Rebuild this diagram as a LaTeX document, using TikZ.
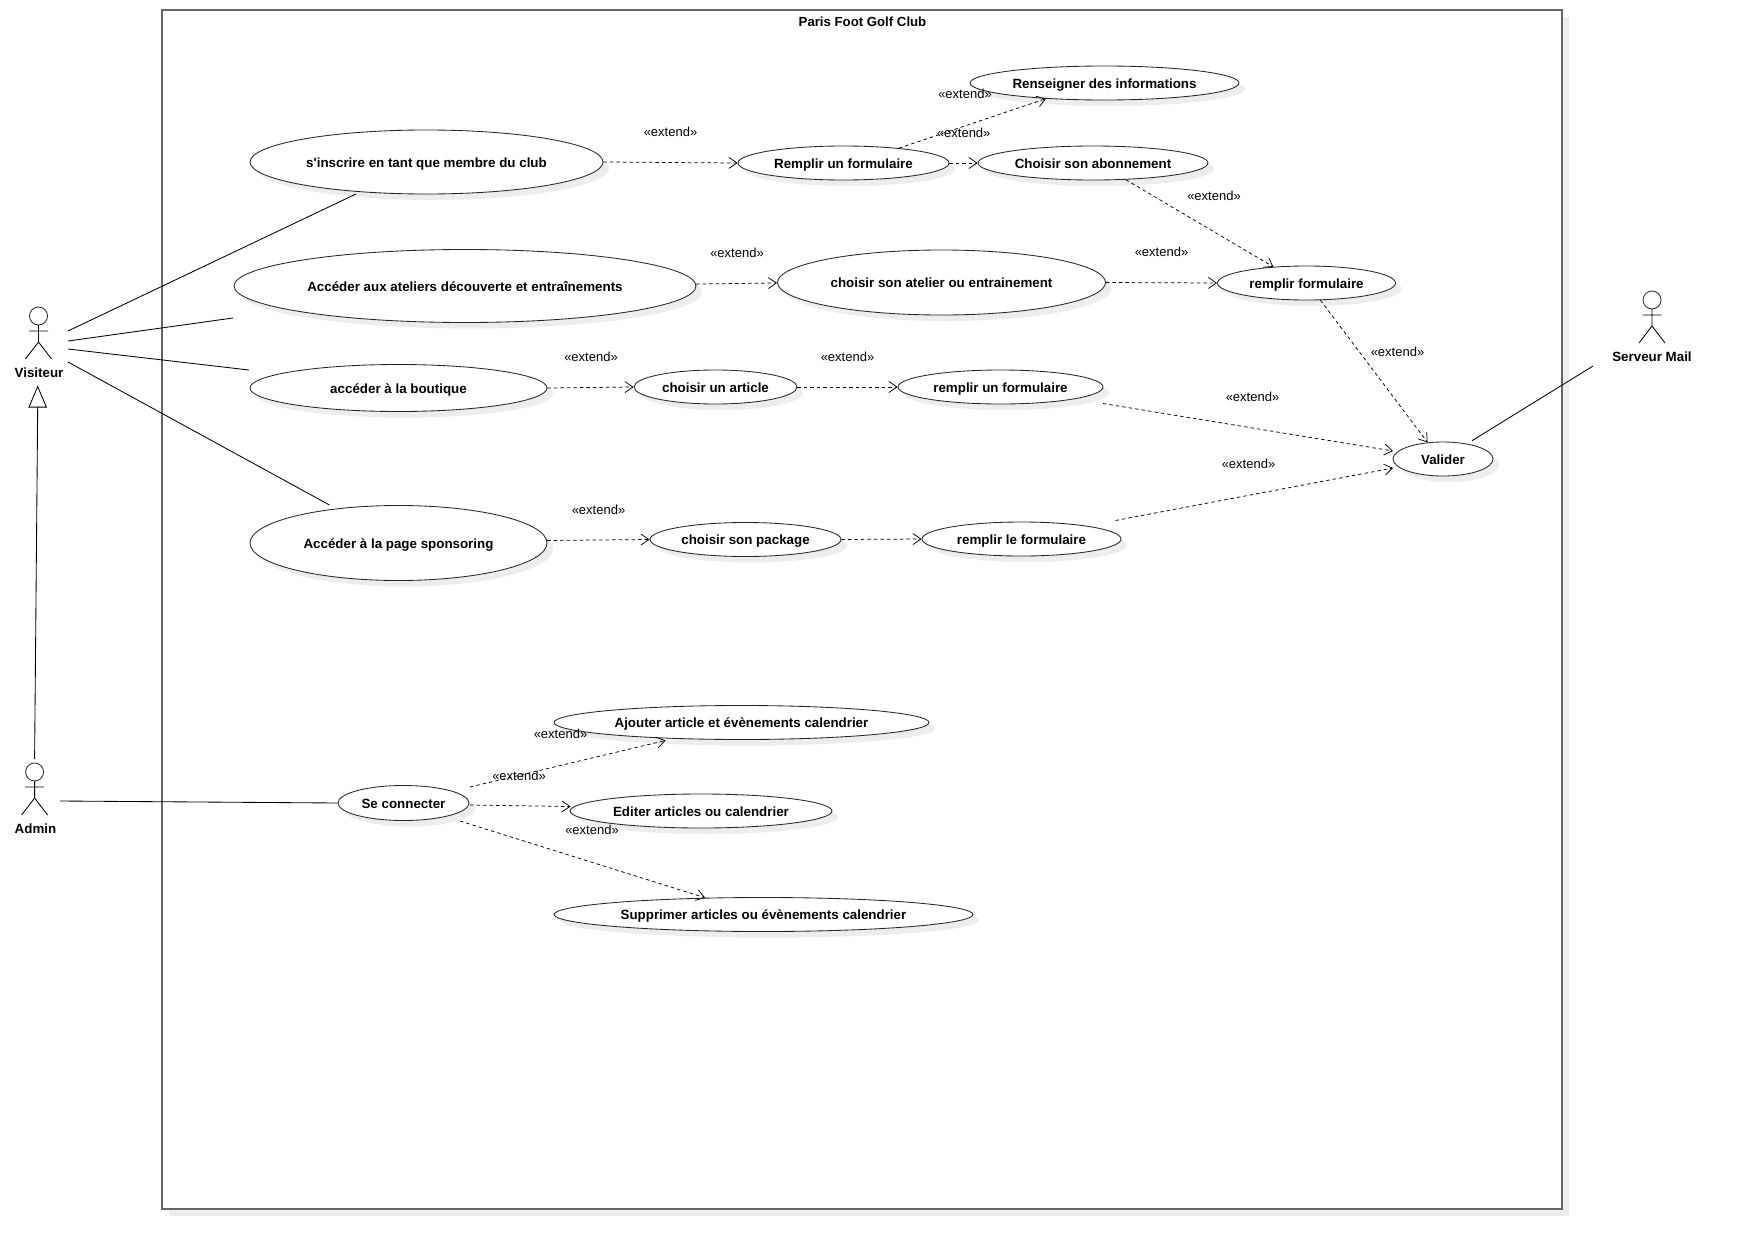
\documentclass[tikz,border=0pt]{standalone}
\usepackage{fontspec}
\newfontfamily\plainsans{Liberation Sans}
\usetikzlibrary{shapes.geometric,shadows,arrows.meta}
\definecolor{shadowgray}{gray}{0.93}
\tikzset{
  usecase/.style={ellipse,draw=black!85,line width=0.85pt,fill=white,inner sep=0pt,
    general shadow={shadow xshift=6pt,shadow yshift=-6pt,fill=shadowgray},
    font=\plainsans\fontsize{13.35}{16}\selectfont\bfseries},
  actorname/.style={inner sep=0pt,font=\plainsans\fontsize{13.35}{16}\selectfont\bfseries},
  extlabel/.style={inner sep=0pt,font=\plainsans\fontsize{13}{16}\selectfont},
  titlelabel/.style={inner sep=0pt,font=\plainsans\fontsize{13.2}{16}\selectfont\bfseries},
  ext/.style={line width=0.75pt,dash pattern=on 3.5pt off 3pt,-{Straight Barb[length=8pt,width=11pt,line width=0.75pt]}},
  assoc/.style={line width=0.85pt},
  actorfig/.pic={
    \draw[line width=0.8pt,black!85] (0,-0) circle (9);
    \draw[line width=0.85pt] (0,9) -- (0,26) (-9.5,15) -- (9.5,15) (-13,43) -- (0,26) -- (13,43);
  }
}
\begin{document}
\begin{tikzpicture}[x=1pt,y=-1pt]
\useasboundingbox (0,0) rectangle (1751,1250);
% system frame
\node[draw=black!60,line width=1.1pt,fill=white,minimum width=1400pt,minimum height=1199pt,inner sep=0pt,
  general shadow={shadow xshift=7pt,shadow yshift=-7pt,fill=shadowgray}] (frame) at (862,609.5) {};
\node[titlelabel] (title) at (862.5,22) {Paris Foot Golf Club};
% use cases
\newcommand{\ucase}[6]{\node[usecase,minimum width=#4pt,minimum height=#5pt] (#1) at (#2,#3) {\raisebox{-5pt}[8pt][8pt]{#6}};}
\ucase{A}{426.5}{162}{353}{64}{s'inscrire en tant que membre du club}
\ucase{B}{465}{286}{462}{73}{Accéder aux ateliers découverte et entraînements}
\ucase{C}{398.5}{388}{297}{47}{accéder à la boutique}
\ucase{D}{398.5}{543}{297}{75}{Accéder à la page sponsoring}
\ucase{E}{843.5}{163}{211}{34}{Remplir un formulaire}
\ucase{F}{1104.5}{83}{269}{34}{Renseigner des informations}
\ucase{G}{1093}{163}{230}{34}{Choisir son abonnement}
\ucase{H}{941.5}{282.5}{328}{65}{choisir son atelier ou entrainement}
\ucase{I}{1306.5}{283}{178}{34}{remplir formulaire}
\ucase{J}{715.5}{387}{163}{34}{choisir un article}
\ucase{K}{1000.5}{387}{205}{34}{remplir un formulaire}
\ucase{L}{1443}{459}{100}{34}{Valider}
\ucase{M}{745.5}{539.5}{191}{34}{choisir son package}
\ucase{N}{1021.5}{539}{199}{34}{remplir le formulaire}
\ucase{O}{403.5}{803}{131}{35}{Se connecter}
\ucase{P}{741.5}{722.5}{375}{34}{Ajouter article et évènements calendrier}
\ucase{Q}{701}{811}{262}{34}{Editer articles ou calendrier}
\ucase{R}{763.5}{914.5}{419}{34}{Supprimer articles ou évènements calendrier}
% actors
\pic at (38.5,316) {actorfig};
\pic at (34.6,772) {actorfig};
\pic at (1652,300) {actorfig};
\node[actorname] (visiteur) at (39,372.5) {Visiteur};
\node[actorname] (admin) at (35.5,828.5) {Admin};
\node[actorname] (mail) at (1652,356.5) {Serveur Mail};
% free ends
\coordinate (v1) at (68,331);
\coordinate (v2) at (68,341);
\coordinate (v3) at (68,349);
\coordinate (v4) at (68,362);
\coordinate (vA) at (356,194);
\coordinate (vB) at (233,318);
\coordinate (vC) at (249,370);
\coordinate (vD) at (329.5,505);
\coordinate (adm) at (60,801);
\coordinate (admtop) at (34.6,759);
\coordinate (tribase) at (37.7,406.5);
\coordinate (tritip) at (37.7,385.5);
\coordinate (mailend) at (1593,366);
\coordinate (lup) at (1472,440.7);
\coordinate (kout) at (1103,403.5);
\coordinate (lin1) at (1393,451);
\coordinate (nout) at (1115.5,520.5);
\coordinate (lin2) at (1393,468);
\coordinate (oP) at (470,787);
\coordinate (pin) at (665.5,740.5);
\coordinate (oQ) at (470,805);
\coordinate (qin) at (570.5,806.5);
\coordinate (oR) at (460,821);
\coordinate (bout) at (696,284);
\coordinate (hin) at (777,283);
\coordinate (dout) at (547,540.5);
% associations
\draw[assoc] (v1) -- (vA);
\draw[assoc] (v2) -- (vB);
\draw[assoc] (v3) -- (vC);
\draw[assoc] (v4) -- (vD);
\draw[assoc] (adm) -- (O.west);
\draw[assoc] (lup) -- (mailend);
% generalisation
\draw[assoc] (admtop) -- (tribase);
\node[isosceles triangle,isosceles triangle apex angle=46,shape border rotate=90,draw,line width=0.85pt,inner sep=0pt,minimum height=20.5pt,minimum width=17pt,anchor=apex] (tri) at (tritip) {};
% extends
\draw[ext] (A.east) -- (E.west);
\draw[ext] (E.15) -- (F.195);
\draw[ext] (E.east) -- (G.west);
\draw[ext] (G.-27) -- (I.154);
\draw[ext] (bout) -- (hin);
\draw[ext] (H.east) -- (I.west);
\draw[ext] (I.-51) -- (L.133);
\draw[ext] (C.east) -- (J.west);
\draw[ext] (J.east) -- (K.west);
\draw[ext] (kout) -- (lin1);
\draw[ext] (dout) -- (M.west);
\draw[ext] (M.east) -- (N.west);
\draw[ext] (nout) -- (lin2);
\draw[ext] (oP) -- (pin);
\draw[ext] (oQ) -- (qin);
\draw[ext] (oR) -- (R.164);
% labels
\node[extlabel] (e1) at (670.5,131.5) {«extend»};
\node[extlabel] (e2) at (965,94) {«extend»};
\node[extlabel] (e3) at (963.7,133) {«extend»};
\node[extlabel] (e4) at (1214,195.5) {«extend»};
\node[extlabel] (e5) at (737,252.5) {«extend»};
\node[extlabel] (e6) at (1161.5,252) {«extend»};
\node[extlabel] (e7) at (1397.5,352) {«extend»};
\node[extlabel] (e8) at (591,357) {«extend»};
\node[extlabel] (e9) at (847.5,357) {«extend»};
\node[extlabel] (e10) at (1252.5,396.5) {«extend»};
\node[extlabel] (e11) at (1248.5,463.5) {«extend»};
\node[extlabel] (e12) at (598.5,509.5) {«extend»};
\node[extlabel] (e13) at (560.5,733.5) {«extend»};
\node[extlabel] (e14) at (519,775.5) {«extend»};
\node[extlabel] (e15) at (592,830) {«extend»};
\end{tikzpicture}
\end{document}
